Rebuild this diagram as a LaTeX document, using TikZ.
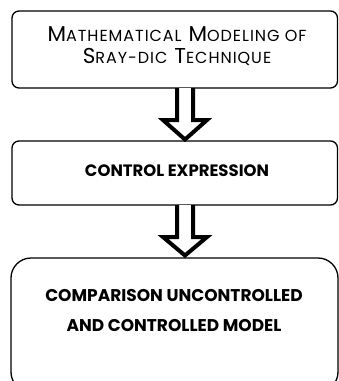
\documentclass[tikz,border=0pt]{standalone}
\usepackage{fontspec}
\setmainfont{Poppins}
\newfontfamily\scfont[LetterSpace=6]{Poppins}
\newcommand{\fsc}[2]{{#1}{\fontsize{16}{22}\selectfont #2}}
\begin{document}
\begin{tikzpicture}[x=1pt,y=1pt,
  boxstyle/.style={draw=black,line width=1.3pt,rounded corners=7pt},
  blockarrow/.style={draw=black,line width=4pt,fill=white,line join=miter},
  txt/.style={align=center,inner sep=0pt}]
\useasboundingbox (0,0) rectangle (339,-381);
% boxes
\draw[boxstyle] (12,-11) rectangle (337.5,-88);
\node[txt,font=\scfont\fontsize{21.5}{22}\selectfont] (t1) at (177,-46) {\fsc{M}{ATHEMATICAL} \fsc{M}{ODELING OF}\\\fsc{S}{RAY-DIC} \fsc{T}{ECHNIQUE}};
\draw[boxstyle] (12,-141) rectangle (337.5,-205);
\node[txt,font=\fontsize{16.5}{18}\selectfont\bfseries] (t2) at (177,-171) {CONTROL EXPRESSION};
\draw[boxstyle,rounded corners=20pt] (11,-258) rectangle (338,-392);
\node[txt,font=\fontsize{17}{30}\selectfont\bfseries] (t3) at (174,-311) {COMPARISON UNCONTROLLED\\AND CONTROLLED MODEL};
% arrows
\draw[blockarrow] (177,-88) -- (177,-120) -- (163,-120) -- (185,-139.5) -- (207,-120) -- (193,-120) -- (193,-88);
\draw[blockarrow] (177,-205) -- (177,-237) -- (163,-237) -- (185,-255.5) -- (207,-237) -- (193,-237) -- (193,-205);
\end{tikzpicture}
\end{document}
